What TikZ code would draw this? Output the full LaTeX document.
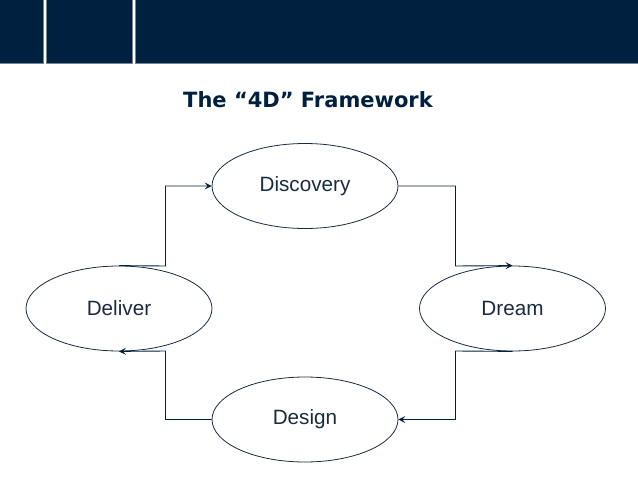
\documentclass[tikz,border=0pt]{standalone}
\usepackage{fontspec}
\setmainfont{Liberation Sans}
\newfontfamily\titlefont{DejaVu Sans}
\usetikzlibrary{arrows.meta,shapes.geometric}
\definecolor{navy}{HTML}{00203F}
\definecolor{ink}{HTML}{1B2A3F}
\begin{document}
\begin{tikzpicture}[x=1pt,y=-1pt,>={Stealth[length=7pt,width=7pt,inset=3pt]},
 phase/.style={ellipse,draw=ink,line width=0.8pt,minimum width=186pt,minimum height=85pt,
   inner sep=0pt,font=\fontsize{20.7}{24}\selectfont,text=ink},
 link/.style={->,draw=navy,line width=0.9pt},
 band/.style={fill=navy,draw=navy!55!white,line width=0.5pt}]
\useasboundingbox (0,0) rectangle (638,479);
% header bands
\path[band] (-1,-1) rectangle (43,63);
\path[band] (46,-1) rectangle (132,63);
\path[band] (135,-1) rectangle (639,63);
\node[font=\titlefont\bfseries\fontsize{21}{25}\selectfont,text=navy] (title) at (308,100) {The “4D” Framework};
% the four phases
\node[phase] (disc) at (305,186) {Discovery};
\node[phase] (dream) at (512.5,308.5) {Dream};
\node[phase] (design) at (305,419.5) {Design};
\node[phase] (deliv) at (119,308.5) {Deliver};
\draw[link] (deliv.north) -- (165.5,266) -- (165.5,186) -- (disc.west);
\draw[link] (disc.east) -- (455.5,186) -- (455.5,266) -- (dream.north);
\draw[link] (dream.south) -- (455.5,351) -- (455.5,419.5) -- (design.east);
\draw[link] (design.west) -- (165.5,419.5) -- (165.5,351) -- (deliv.south);
\end{tikzpicture}
\end{document}
